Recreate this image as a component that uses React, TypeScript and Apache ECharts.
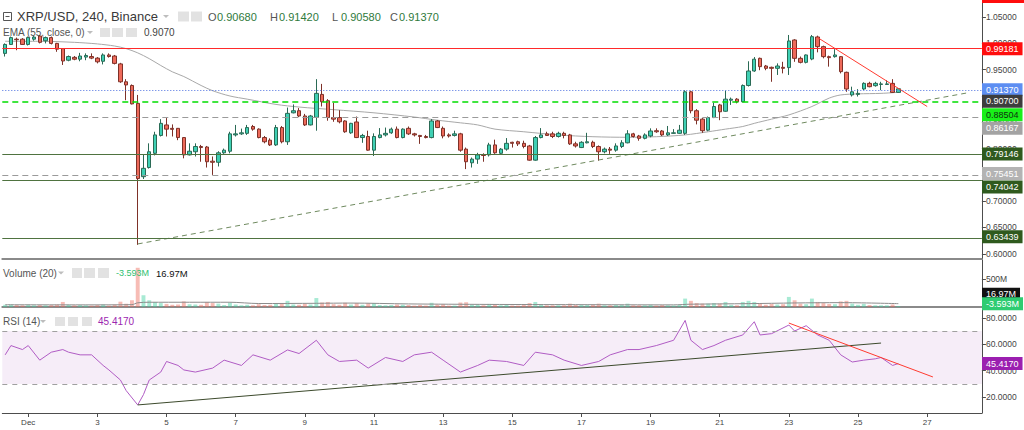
import React, { useEffect, useRef } from "react";
import * as echarts from "echarts";

// ---------------- DATA ----------------
// candle slot index k: 0 = Dec 1 00:00, 6 bars (240 min) per day; first bar is k = -4
const OFFSET = 4;
const SLOT_COUNT = 170;
const BARS_PER_LABEL = 12;
const dayLabels = ["Dec", "3", "5", "7", "9", "11", "13", "15", "17", "19", "21", "23", "25", "27"];

// [open, close, low, high]
const candles = [
  [0.981, 0.998, 0.975, 1.0], [0.998, 1.011, 0.997, 1.013], [1.008, 1.007, 0.987, 1.011], [1.008, 0.998, 0.997, 1.01],
  [0.998, 1.011, 0.996, 1.013], [1.008, 1.012, 1.005, 1.015], [1.014, 1.002, 1.0, 1.016], [1.005, 1.011, 1.0, 1.013],
  [1.011, 1.0, 0.998, 1.013], [1.0, 0.989, 0.984, 1.001], [0.99, 0.9665, 0.959, 0.991], [0.968, 0.975, 0.966, 0.977],
  [0.9735, 0.97, 0.968, 0.976], [0.97, 0.976, 0.966, 0.982], [0.974, 0.977, 0.968, 0.981], [0.975, 0.972, 0.97, 0.981],
  [0.972, 0.965, 0.962, 0.974], [0.966, 0.978, 0.96, 0.981], [0.978, 0.975, 0.973, 0.981], [0.976, 0.962, 0.96, 0.978],
  [0.961, 0.927, 0.925, 0.963], [0.927, 0.921, 0.892, 0.932], [0.92, 0.885, 0.884, 0.922], [0.886, 0.743, 0.617, 0.902],
  [0.7466, 0.7625, 0.7422, 0.7878], [0.764, 0.794, 0.762, 0.81], [0.791, 0.826, 0.787, 0.832], [0.825, 0.848, 0.823, 0.856],
  [0.845, 0.837, 0.823, 0.858], [0.8385, 0.8366, 0.823, 0.846], [0.8385, 0.821, 0.816, 0.839], [0.821, 0.788, 0.7815, 0.822],
  [0.788, 0.795, 0.787, 0.81], [0.794, 0.804, 0.785, 0.81], [0.804, 0.802, 0.775, 0.807], [0.803, 0.775, 0.764, 0.805],
  [0.776, 0.774, 0.75, 0.785], [0.774, 0.792, 0.766, 0.795], [0.792, 0.797, 0.79, 0.8], [0.795, 0.828, 0.791, 0.832],
  [0.826, 0.828, 0.823, 0.845], [0.828, 0.83, 0.826, 0.838], [0.829, 0.84, 0.826, 0.845], [0.842, 0.837, 0.834, 0.845],
  [0.837, 0.821, 0.8195, 0.8385], [0.821, 0.813, 0.81, 0.824], [0.816, 0.807, 0.805, 0.8195], [0.807, 0.84, 0.805, 0.845],
  [0.84, 0.813, 0.81, 0.843], [0.813, 0.867, 0.807, 0.878], [0.868, 0.872, 0.867, 0.884], [0.872, 0.862, 0.86, 0.877],
  [0.862, 0.845, 0.843, 0.866], [0.845, 0.862, 0.844, 0.864], [0.8594, 0.905, 0.834, 0.932], [0.903, 0.889, 0.88, 0.923],
  [0.891, 0.859, 0.853, 0.894], [0.859, 0.856, 0.851, 0.887], [0.859, 0.851, 0.848, 0.873], [0.8525, 0.832, 0.83, 0.854],
  [0.83, 0.848, 0.828, 0.849], [0.8506, 0.821, 0.82, 0.861], [0.821, 0.825, 0.811, 0.828], [0.823, 0.797, 0.796, 0.834],
  [0.797, 0.823, 0.786, 0.829], [0.821, 0.826, 0.8195, 0.839], [0.826, 0.829, 0.823, 0.84], [0.83, 0.837, 0.828, 0.84],
  [0.837, 0.821, 0.8195, 0.842], [0.821, 0.837, 0.8195, 0.8385], [0.8385, 0.828, 0.826, 0.842], [0.828, 0.826, 0.823, 0.83],
  [0.825, 0.823, 0.809, 0.826], [0.823, 0.821, 0.8195, 0.826], [0.821, 0.8525, 0.8195, 0.856], [0.8525, 0.84, 0.839, 0.8544],
  [0.8385, 0.824, 0.8195, 0.842], [0.826, 0.824, 0.821, 0.829], [0.825, 0.828, 0.823, 0.834], [0.828, 0.797, 0.794, 0.83],
  [0.799, 0.775, 0.761, 0.802], [0.773, 0.78, 0.764, 0.783], [0.78, 0.788, 0.771, 0.792], [0.788, 0.787, 0.775, 0.791],
  [0.788, 0.807, 0.785, 0.811], [0.807, 0.792, 0.79, 0.817], [0.791, 0.799, 0.788, 0.801], [0.799, 0.81, 0.796, 0.82],
  [0.812, 0.81, 0.802, 0.813], [0.813, 0.809, 0.805, 0.815], [0.81, 0.804, 0.8005, 0.815], [0.805, 0.778, 0.777, 0.807],
  [0.778, 0.821, 0.777, 0.824], [0.821, 0.826, 0.8195, 0.839], [0.828, 0.825, 0.824, 0.832], [0.828, 0.823, 0.82, 0.832],
  [0.823, 0.829, 0.821, 0.832], [0.829, 0.825, 0.8195, 0.832], [0.826, 0.809, 0.807, 0.828], [0.809, 0.805, 0.802, 0.813],
  [0.802, 0.812, 0.801, 0.814], [0.811, 0.813, 0.81, 0.83], [0.812, 0.804, 0.801, 0.815], [0.804, 0.794, 0.777, 0.806],
  [0.794, 0.799, 0.791, 0.802], [0.799, 0.797, 0.79, 0.803], [0.797, 0.805, 0.794, 0.81], [0.804, 0.811, 0.801, 0.816],
  [0.811, 0.828, 0.81, 0.835], [0.828, 0.823, 0.821, 0.83], [0.824, 0.8195, 0.815, 0.826], [0.8195, 0.826, 0.8176, 0.829],
  [0.824, 0.8335, 0.8215, 0.8385], [0.834, 0.832, 0.83, 0.8385], [0.8335, 0.826, 0.824, 0.8354], [0.826, 0.83, 0.824, 0.843],
  [0.829, 0.83, 0.828, 0.837], [0.829, 0.835, 0.828, 0.845], [0.829, 0.908, 0.826, 0.911], [0.908, 0.872, 0.867, 0.91],
  [0.872, 0.854, 0.846, 0.875], [0.856, 0.834, 0.83, 0.858], [0.835, 0.859, 0.833, 0.861], [0.859, 0.88, 0.858, 0.887],
  [0.883, 0.87, 0.854, 0.885], [0.871, 0.894, 0.87, 0.91], [0.892, 0.894, 0.883, 0.897], [0.894, 0.889, 0.886, 0.896],
  [0.889, 0.92, 0.888, 0.922], [0.92, 0.9475, 0.918, 0.966], [0.9475, 0.97, 0.946, 0.974], [0.9716, 0.9558, 0.949, 0.973],
  [0.957, 0.9526, 0.949, 0.959], [0.9545, 0.9526, 0.927, 0.9558], [0.9526, 0.957, 0.94, 0.962], [0.9545, 0.9526, 0.943, 0.965],
  [0.954, 1.0046, 0.94, 1.016], [1.0065, 0.9716, 0.965, 1.008], [0.9716, 0.964, 0.962, 0.975], [0.964, 0.978, 0.962, 0.979],
  [0.9703, 1.0128, 0.968, 1.016], [1.0122, 0.9938, 0.983, 1.0147], [0.9938, 0.9748, 0.9716, 0.9957], [0.9748, 0.9729, 0.9558, 0.9767],
  [0.9748, 0.978, 0.9729, 0.989], [0.9748, 0.9463, 0.943, 0.976], [0.945, 0.9133, 0.908, 0.9463], [0.902, 0.908, 0.899, 0.9177],
  [0.903, 0.905, 0.899, 0.913], [0.9133, 0.924, 0.9114, 0.926], [0.924, 0.9177, 0.9165, 0.927], [0.9196, 0.924, 0.9177, 0.927],
  [0.922, 0.923, 0.911, 0.927], [0.922, 0.923, 0.9209, 0.93], [0.924, 0.9068, 0.9058, 0.932], [0.9068, 0.9137, 0.9058, 0.9142],
];

// volume per bar, millions
const volumesM = [
  40, 45, 35, 30, 40, 30, 35, 30, 35, 45,
  90, 40, 30, 35, 30, 25, 35, 45, 25, 40,
  95, 60, 120, 700,
  210, 120, 90, 70, 55, 40, 45, 100, 50, 45,
  40, 90, 70, 60, 35, 80, 45, 30, 40, 30,
  50, 35, 40, 70, 60, 110, 45, 40, 55, 45,
  160, 80, 90, 50, 40, 75, 45, 70, 40, 65,
  70, 35, 30, 35, 45, 40, 35, 25, 35, 25,
  75, 45, 50, 25, 25, 80, 85, 40, 40, 30,
  55, 45, 30, 40, 25, 25, 35, 70, 90, 45,
  30, 30, 30, 30, 60, 35, 35, 35, 40, 60,
  30, 30, 35, 40, 60, 30, 30, 30, 40, 25,
  35, 30, 25, 35, 150, 110, 70, 60, 60, 70,
  60, 90, 40, 30, 90, 110, 90, 70, 40, 55,
  45, 50, 180, 120, 60, 50, 150, 90, 70, 55,
  50, 100, 110, 60, 40, 55, 35, 30, 30, 30, 45, 17,
];
const volumeMaPoints = [
  [-4, 40], [10, 38], [18, 42], [19, 75], [21, 85], [35, 85], [40, 62], [50, 66], [56, 70], [66, 55],
  [80, 46], [95, 42], [112, 38], [115, 50], [125, 60], [133, 72], [141, 78], [151, 60],
];

// EMA(55)
const emaPoints = [
  [-4, 1.004], [2, 1.004], [8, 1.002], [12, 0.999], [15, 0.995], [17, 0.99], [19, 0.982], [21, 0.971],
  [23, 0.958], [25, 0.946], [27, 0.937], [30, 0.92], [32, 0.91], [35, 0.9], [38, 0.894], [43, 0.884],
  [47, 0.879], [53, 0.874], [60, 0.868], [67, 0.86], [71, 0.854], [75, 0.849], [78, 0.845], [81, 0.837],
  [86, 0.832], [92, 0.826], [98, 0.8226], [104, 0.8215], [109, 0.8226], [114, 0.826], [118, 0.832],
  [121, 0.837], [124, 0.842], [126, 0.848], [129, 0.856], [132, 0.864], [136, 0.88], [139, 0.896],
  [141, 0.902], [144, 0.904], [148, 0.905], [151, 0.907],
];

// RSI(14)
const rsiPoints = [
  [-4, 52], [-3, 59], [-1, 56], [0, 59], [2, 48], [4, 54], [6, 56], [7, 54], [9, 52], [11, 52], [13, 44],
  [14, 40.6], [16, 33], [17, 25], [19, 14.2], [20, 22], [21, 33], [23, 39], [24, 47], [26, 44], [27, 40.6],
  [29, 39], [32, 42], [34, 48], [37, 44], [39, 52], [42, 48], [45, 55.7], [47, 53], [50, 63], [52, 52],
  [54, 47], [57, 48], [59, 42], [62, 50], [65, 47], [67, 52], [70, 54], [72, 48], [75, 39], [78, 44],
  [80, 48], [83, 47], [86, 44], [88, 54], [91, 52], [93, 48], [96, 44], [99, 47], [101, 52], [104, 56],
  [106, 56], [109, 59], [112, 63], [114, 78], [115, 63], [117, 56], [119, 59], [121, 63], [124, 67],
  [126, 77], [127, 67], [129, 68], [132, 74.5], [133, 70], [135, 74], [137, 67], [139, 63], [141, 52],
  [143, 46.6], [145, 48], [147, 49], [148, 50], [150, 44], [151, 45.417],
];

const priceTicks = [0.6, 0.65, 0.7, 0.75, 0.8, 0.85, 0.9, 0.95, 1.0, 1.05];
const volumeTicks = [500];
const rsiTicks = [20, 40, 60, 80];

const levels = [0.99181, 0.9137, 0.88504, 0.86167, 0.79146, 0.75451, 0.74042, 0.63439];
const emaLast = 0.907;
const rsiLast = 45.417;
const supportTrend = [[19, 0.6187], [163, 0.906]];
const resistTrend = [[137, 1.011], [156, 0.88]];
const rsiSupportTrend = [[19, 14.2], [148, 60.9]];
const rsiResistTrend = [[132, 76], [157, 35.3]];

const titleText = "XRP/USD, 240, Binance";
const ohlcLabels = ["O", "H", "L", "C"];
const ohlcValues = ["0.90680", "0.91420", "0.90580", "0.91370"];
const emaLegend = "EMA (55, close, 0)";
const emaLegendValue = "0.9070";
const volLegend = "Volume (20)";
const volLegendValues = ["-3.593M", "16.97M"];
const rsiLegend = "RSI (14)";
const rsiLegendValue = "45.4170";

// ---------------- STYLE ----------------
const FONT = "Liberation Sans, Arial, sans-serif";
const UP = "#3fd0b4";
const DOWN = "#ee6a5a";
const UP_B = "#2a6a55";
const DOWN_B = "#7e3128";
const DKGREEN = "#4f7340";
const levelLineStyles = [
  { color: "#ff2a2a", width: 1, type: "solid" },
  { color: "#4a6ee0", width: 1, type: [1, 2] },
  { color: "#00dd00", width: 1.5, type: [6, 4] },
  { color: "#9a9a9a", width: 1, type: [6, 4] },
  { color: DKGREEN, width: 1, type: "solid" },
  { color: "#9a9a9a", width: 1, type: [6, 4] },
  { color: DKGREEN, width: 1, type: "solid" },
  { color: DKGREEN, width: 1, type: "solid" },
];
const levelTagStyles = [
  { bg: "#ff0d0d", fg: "#ffffff", dy: 1 },
  { bg: "#5d8ef2", fg: "#ffffff", dy: 1 },
  { bg: "#19f019", fg: "#103010", dy: 11 },
  { bg: "#a3a3a3", fg: "#ffffff", dy: 12 },
  { bg: "#2f5a1e", fg: "#ffffff", dy: 1 },
  { bg: "#b3b3b3", fg: "#ffffff", dy: 1 },
  { bg: "#2f5a1e", fg: "#ffffff", dy: 7 },
  { bg: "#2f5a1e", fg: "#ffffff", dy: 1 },
];

const cats = Array.from({ length: SLOT_COUNT }, (_, i) => String(i - OFFSET));
const isDayTick = (i: number) => {
  const k = i - OFFSET;
  return k >= 0 && k % BARS_PER_LABEL === 0 && k / BARS_PER_LABEL < dayLabels.length;
};
const toSlot = (pts: number[][]) => pts.map(([k, v]) => [k + OFFSET, v]);

function buildOption() {
  const AX = "#4d4d4d";
  const yAxis = (g: number, min: number, max: number, ticks: number[], fmt: (v: number) => string) => ({
    type: "value",
    gridIndex: g,
    position: "right",
    min,
    max,
    scale: true,
    splitLine: { show: false },
    axisLine: { show: true, onZero: false, lineStyle: { color: AX, width: 1 } },
    axisTick: { show: true, length: 4, customValues: ticks, lineStyle: { color: AX } },
    axisLabel: { show: true, customValues: ticks, formatter: fmt, fontSize: 8.5, color: "#444", margin: 4, fontFamily: FONT },
  });
  return {
    animation: false,
    backgroundColor: "#ffffff",
    grid: [
      { left: 2.3, right: 42.1, top: 0, height: 259 },
      { left: 2.3, right: 42.1, top: 260, height: 47 },
      { left: 2.3, right: 42.1, top: 310, height: 103 },
    ],
    xAxis: [0, 1, 2].map((g) => ({
      type: "category",
      gridIndex: g,
      data: cats,
      boundaryGap: true,
      splitLine: { show: false },
      axisLine: { show: true, onZero: false, lineStyle: { color: g === 2 ? AX : "#8a8a8a", width: g === 2 ? 1 : 2 } },
      axisTick:
        g === 2
          ? { show: true, interval: (i: number) => isDayTick(i), alignWithLabel: true, length: 4, lineStyle: { color: AX } }
          : { show: false },
      axisLabel:
        g === 2
          ? {
              show: true,
              interval: (i: number) => isDayTick(i),
              formatter: (v: string) => dayLabels[Number(v) / BARS_PER_LABEL],
              fontSize: 8,
              color: "#444",
              margin: 5,
              fontFamily: FONT,
            }
          : { show: false },
    })),
    yAxis: [
      yAxis(0, 0.5901, 1.0825, priceTicks, (v: number) => v.toFixed(5)),
      yAxis(1, 0, 839, volumeTicks, (v: number) => `${v}M`),
      yAxis(2, 8.11, 85.85, rsiTicks, (v: number) => v.toFixed(4)),
    ],
    series: [
      {
        type: "candlestick",
        xAxisIndex: 0,
        yAxisIndex: 0,
        data: candles,
        barWidth: "68%",
        itemStyle: { color: UP, color0: DOWN, borderColor: UP_B, borderColor0: DOWN_B, borderWidth: 1 },
        markLine: {
          symbol: ["none", "none"],
          silent: true,
          animation: false,
          label: { show: false },
          data: levels.map((v, j) => ({ yAxis: v, lineStyle: levelLineStyles[j] })),
        },
        z: 3,
      },
      {
        type: "line",
        xAxisIndex: 0,
        yAxisIndex: 0,
        data: toSlot(emaPoints),
        smooth: 0.3,
        showSymbol: false,
        symbol: "none",
        lineStyle: { color: "#a8a8a8", width: 1 },
        z: 2,
      },
      {
        type: "line",
        xAxisIndex: 0,
        yAxisIndex: 0,
        data: toSlot(supportTrend),
        symbol: "none",
        lineStyle: { color: "#6f8a5f", width: 1, type: [5, 4] },
        z: 4,
      },
      {
        type: "line",
        xAxisIndex: 0,
        yAxisIndex: 0,
        data: toSlot(resistTrend),
        symbol: "none",
        lineStyle: { color: "#ff3b30", width: 1 },
        z: 4,
      },
      {
        type: "bar",
        xAxisIndex: 1,
        yAxisIndex: 1,
        barWidth: "68%",
        data: volumesM.map((v, j) => ({
          value: v,
          itemStyle: {
            color: candles[j][1] >= candles[j][0] ? "rgba(63,208,160,0.45)" : "rgba(238,106,90,0.45)",
          },
        })),
      },
      {
        type: "line",
        xAxisIndex: 1,
        yAxisIndex: 1,
        data: toSlot(volumeMaPoints),
        symbol: "none",
        smooth: 0.3,
        lineStyle: { color: "#8c8c8c", width: 1 },
      },
      {
        type: "line",
        xAxisIndex: 2,
        yAxisIndex: 2,
        data: toSlot(rsiPoints),
        symbol: "none",
        lineStyle: { color: "#b05cc4", width: 1 },
        markLine: {
          symbol: ["none", "none"],
          silent: true,
          label: { show: false },
          lineStyle: { color: "#a0a0a0", type: [5, 5], width: 1 },
          data: [{ yAxis: 70 }, { yAxis: 30 }],
        },
        markArea: {
          silent: true,
          itemStyle: { color: "rgba(155,60,180,0.09)" },
          data: [[{ yAxis: 30 }, { yAxis: 70 }]],
        },
        z: 3,
      },
      {
        type: "line",
        xAxisIndex: 2,
        yAxisIndex: 2,
        data: toSlot(rsiSupportTrend),
        symbol: "none",
        lineStyle: { color: "#3c4a2c", width: 1 },
        z: 4,
      },
      {
        type: "line",
        xAxisIndex: 2,
        yAxisIndex: 2,
        data: toSlot(rsiResistTrend),
        symbol: "none",
        lineStyle: { color: "#ff3b30", width: 1 },
        z: 4,
      },
    ],
  };
}

function tag(text: string, yc: number, bg: string, fg: string) {
  return {
    type: "text",
    z: 100,
    x: 982,
    y: yc,
    style: {
      text,
      fill: fg,
      backgroundColor: bg,
      padding: [2, 4, 2, 4],
      fontSize: 9,
      fontFamily: FONT,
      verticalAlign: "middle",
      align: "left",
    },
  };
}
function txt(text: string, x: number, y: number, size: number, color: string) {
  return {
    type: "text",
    z: 100,
    x,
    y,
    style: { text, fill: color, fontSize: size, fontFamily: FONT, verticalAlign: "middle", align: "left" },
  };
}
function iconBox(x: number, y: number, w: number, h: number) {
  return { type: "rect", z: 100, shape: { x, y, width: w, height: h }, style: { fill: "#e2e2e2" } };
}
function caret(x: number, y: number) {
  return { type: "polygon", z: 100, shape: { points: [[x, y - 1.5], [x + 6, y - 1.5], [x + 3, y + 1.5]] }, style: { fill: "#bdbdbd" } };
}

function buildGraphics(chart: any) {
  const g: any[] = [];
  // header
  g.push({ type: "rect", z: 100, shape: { x: 3.5, y: 12.5, width: 8, height: 8 }, style: { fill: "none", stroke: "#555", lineWidth: 1 } });
  g.push({ type: "line", z: 100, shape: { x1: 5.5, y1: 16.5, x2: 9.5, y2: 16.5 }, style: { stroke: "#555", lineWidth: 1 } });
  g.push(txt(titleText, 17, 16.7, 13, "#3a3a3a"));
  g.push(caret(163, 16.5));
  g.push(iconBox(178, 11.5, 11, 10), iconBox(191, 11.5, 11, 10));
  const ohlcX = [208, 270, 332, 390];
  ohlcLabels.forEach((l, j) => {
    g.push(txt(l, ohlcX[j], 16.7, 11, "#555"));
    g.push(txt(ohlcValues[j], ohlcX[j] + 9, 16.7, 11, "#2f7a3c"));
  });
  g.push(txt(emaLegend, 3, 32.5, 10, "#555"));
  g.push(caret(87, 32.5));
  g.push(iconBox(100, 28, 10, 9), iconBox(112, 28, 11, 9), iconBox(126, 28, 11, 9));
  g.push(txt(emaLegendValue, 144, 32.5, 10, "#444"));
  g.push(txt(volLegend, 3, 273, 10, "#555"));
  g.push(caret(58, 273));
  g.push(iconBox(72, 268, 10, 10), iconBox(84, 268, 11, 10), iconBox(98, 268, 11, 10));
  g.push(txt(volLegendValues[0], 116, 273, 9, "#2fbf71"));
  g.push(txt(volLegendValues[1], 156, 273, 9.5, "#111"));
  g.push(txt(rsiLegend, 3, 321.5, 10, "#555"));
  g.push(caret(40, 321.5));
  g.push(iconBox(55, 317, 10, 9), iconBox(68, 317, 10, 9), iconBox(82, 317, 10, 9));
  g.push(txt(rsiLegendValue, 98, 321.5, 10, "#9c27b0"));

  // price tags (positions through the y scale)
  g.push({ type: "rect", z: 100, shape: { x: 982, y: 0, width: 42, height: 3 }, style: { fill: "#ff0d0d" } });
  levels.forEach((v, j) => {
    const y = chart.convertToPixel({ yAxisIndex: 0 }, v) + levelTagStyles[j].dy;
    g.push(tag(v.toFixed(5), y, levelTagStyles[j].bg, levelTagStyles[j].fg));
  });
  const yEma = chart.convertToPixel({ yAxisIndex: 0 }, emaLast) + 9;
  g.push(tag(emaLast.toFixed(5), yEma, "#3d3d3d", "#ffffff"));
  g.push(tag(volLegendValues[1], 294.3, "#111111", "#ffffff"));
  g.push(tag(volLegendValues[0], 303.8, "#2ecc71", "#ffffff"));
  const yRsi = chart.convertToPixel({ yAxisIndex: 2 }, rsiLast);
  g.push(tag(rsiLast.toFixed(4), yRsi, "#9b1fb0", "#ffffff"));
  return g;
}

export default function App() {
  const ref = useRef<HTMLDivElement>(null);
  useEffect(() => {
    const chart = echarts.init(ref.current as HTMLDivElement, null, { renderer: "svg" });
    chart.setOption(buildOption() as any);
    chart.setOption({ graphic: buildGraphics(chart) } as any);
    return () => chart.dispose();
  }, []);
  return (
    <div
      ref={ref}
      style={{ position: "fixed", left: 0, top: 0, width: 1024, height: 430, background: "#ffffff" }}
    />
  );
}
